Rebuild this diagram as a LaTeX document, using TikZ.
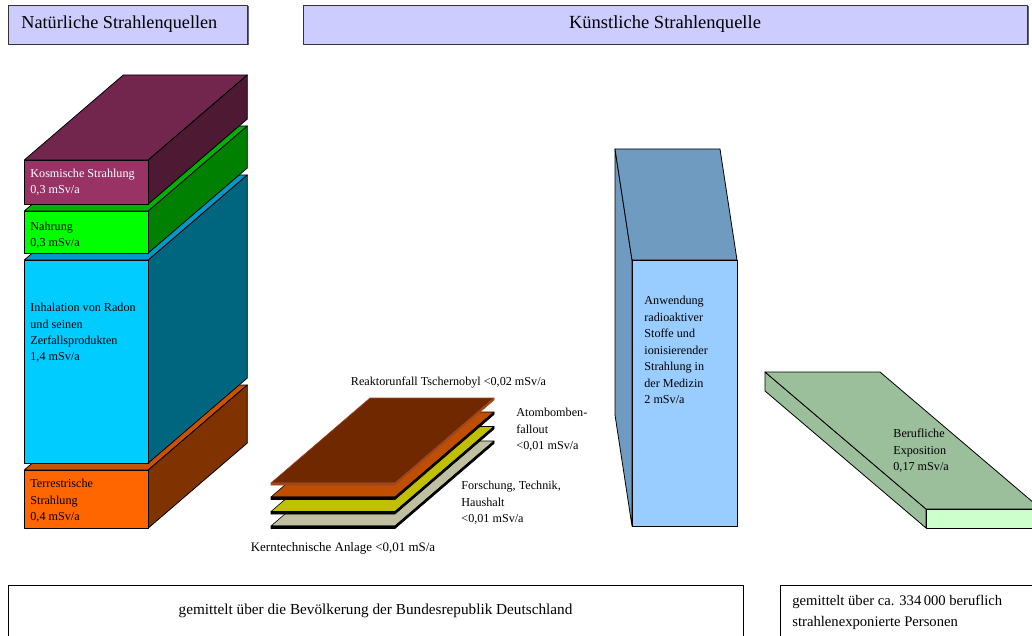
\documentclass[tikz,border=0pt]{standalone}
\usepackage{fontspec}
\setmainfont{Liberation Serif}
\usetikzlibrary{calc}
\definecolor{headBlue}{RGB}{204,204,255}
\definecolor{kosFront}{RGB}{153,51,102}
\definecolor{kosTop}{RGB}{114,38,78}
\definecolor{kosSide}{RGB}{77,25,51}
\definecolor{nahFront}{RGB}{0,255,0}
\definecolor{nahTop}{RGB}{0,178,0}
\definecolor{nahSide}{RGB}{0,128,0}
\definecolor{radFront}{RGB}{0,204,255}
\definecolor{radTop}{RGB}{0,153,204}
\definecolor{radSide}{RGB}{0,102,128}
\definecolor{terFront}{RGB}{255,102,0}
\definecolor{terTop}{RGB}{204,82,0}
\definecolor{terSide}{RGB}{128,51,0}
\definecolor{medFront}{RGB}{153,204,255}
\definecolor{medSide}{RGB}{112,155,192}
\definecolor{berTop}{RGB}{155,191,155}
\definecolor{berFront}{RGB}{204,255,204}
\definecolor{kernFill}{RGB}{192,192,160}
\definecolor{forFill}{RGB}{192,192,0}
\definecolor{atomFill}{RGB}{192,78,0}
\definecolor{tscFill}{RGB}{112,40,0}
\definecolor{tscEdge}{RGB}{160,70,30}

\begin{document}
\begin{tikzpicture}[x=1bp, y=-1bp, line join=round, line width=0.8bp,
  every node/.style={font=\fontsize{12.2}{16.5}\selectfont, inner sep=0pt, align=left}]
  \useasboundingbox (0,0) rectangle (1032,636);
  \clip (0,0) rectangle (1032,636);

  % headers
  \fill[black!60] (9.5,6.5) rectangle (248.5,45.5);
  \filldraw[fill=headBlue, draw=black!80] (8,5) rectangle (247,44);
  \node[anchor=west, font=\fontsize{18.3}{22}\selectfont] (natHead) at (21,24.5) {Natürliche Strahlenquellen};
  \fill[black!60] (304.5,6.5) rectangle (1028.5,45.5);
  \filldraw[fill=headBlue, draw=black!80] (303,5) rectangle (1027,44);
  \node[font=\fontsize{18.6}{22}\selectfont] (kuenHead) at (665,24.5) {Künstliche Strahlenquelle};

  % natural stack, bottom to top
  \filldraw[fill=terTop] (24.3,470) -- (148.3,470) -- (247.3,385) -- (123.3,385) -- cycle;
  \filldraw[fill=terSide] (148.3,470) -- (247.3,385) -- (247.3,443) -- (148.3,528) -- cycle;
  \filldraw[fill=terFront] (24.3,470) rectangle (148.3,528);
  \node[anchor=west] (terLabel) at (30,501) {Terrestrische\\Strahlung\\0,4 mSv/a};

  \filldraw[fill=radTop] (24.3,260) -- (148.3,260) -- (247.3,175) -- (123.3,175) -- cycle;
  \filldraw[fill=radSide] (148.3,260) -- (247.3,175) -- (247.3,378) -- (148.3,463) -- cycle;
  \filldraw[fill=radFront] (24.3,260) rectangle (148.3,463);
  \node[anchor=west] (radLabel) at (30,333) {Inhalation von Radon\\und seinen\\Zerfallsprodukten\\1,4 mSv/a};

  \filldraw[fill=nahTop] (24.3,211) -- (148.3,211) -- (247.3,126) -- (123.3,126) -- cycle;
  \filldraw[fill=nahSide] (148.3,211) -- (247.3,126) -- (247.3,168) -- (148.3,253) -- cycle;
  \filldraw[fill=nahFront] (24.3,211) rectangle (148.3,253);
  \node[anchor=west] (nahLabel) at (30,235) {Nahrung\\0,3 mSv/a};

  \filldraw[fill=kosTop] (24.3,160) -- (148.3,160) -- (247.3,75) -- (123.3,75) -- cycle;
  \filldraw[fill=kosSide] (148.3,160) -- (247.3,75) -- (247.3,119) -- (148.3,204) -- cycle;
  \filldraw[fill=kosFront] (24.3,160) rectangle (148.3,204);
  \node[anchor=west, text=white] (kosLabel) at (30,182.5) {Kosmische Strahlung\\0,3 mSv/a};

  % thin plates
  \filldraw[fill=kernFill, line width=0.6bp] (271,526) -- (395,526) -- (494,441) -- (370,441) -- cycle;
  \filldraw[fill=black, line width=0.6bp] (271,526) -- (395,526) -- (494,441) -- (494,443.5) -- (395,528.5) -- (271,528.5) -- cycle;
  \filldraw[fill=forFill, line width=0.6bp] (271,511.5) -- (395,511.5) -- (494,426.5) -- (370,426.5) -- cycle;
  \filldraw[fill=black, line width=0.6bp] (271,511.5) -- (395,511.5) -- (494,426.5) -- (494,429) -- (395,514) -- (271,514) -- cycle;
  \filldraw[fill=atomFill, line width=0.6bp] (271,497) -- (395,497) -- (494,412) -- (370,412) -- cycle;
  \filldraw[fill=black, line width=0.6bp] (271,497) -- (395,497) -- (494,412) -- (494,414.5) -- (395,499.5) -- (271,499.5) -- cycle;
  \filldraw[fill=tscFill, draw=tscEdge, line width=0.6bp] (271,483) -- (395,483) -- (494,398) -- (370,398) -- cycle;
  \filldraw[fill=tscEdge, draw=tscEdge, line width=0.6bp] (271,483) -- (395,483) -- (494,398) -- (494,400) -- (395,485) -- (271,485) -- cycle;
  \node (tscLabel) at (448.5,383) {Reaktorunfall Tschernobyl <0,02 mSv/a};
  \node[anchor=west] (atomLabel) at (516,430) {Atombomben-\\fallout\\<0,01 mSv/a};
  \node[anchor=west] (forLabel) at (461,503) {Forschung, Technik,\\Haushalt\\<0,01 mSv/a};
  \node[font=\fontsize{13}{16.5}\selectfont] (kernLabel) at (343,548) {Kerntechnische Anlage <0,01 mS/a};

  % medicine column
  \filldraw[fill=medSide] (615,149) -- (632,260) -- (632,526) -- (615,415) -- cycle;
  \filldraw[fill=medSide] (615,149) -- (720,149) -- (737,260) -- (632,260) -- cycle;
  \filldraw[fill=medFront] (632,260) rectangle (737,526);
  \node[anchor=west] (medLabel) at (644,350) {Anwendung\\radioaktiver\\Stoffe und\\ionisierender\\Strahlung in\\der Medizin\\2 mSv/a};

  % occupational slab
  \filldraw[fill=berTop] (765,372) -- (926,509) -- (926,528) -- (765,391) -- cycle;
  \filldraw[fill=berTop] (765,372) -- (880,372) -- (1041,509) -- (926,509) -- cycle;
  \filldraw[fill=berFront] (926,509) rectangle (1041,528);
  \node[anchor=west] (berLabel) at (893,451) {Berufliche\\Exposition\\0,17 mSv/a};

  % footers
  \draw (8,585) rectangle (743,660);
  \node[font=\fontsize{15.3}{21}\selectfont] (popNote) at (375.5,611) {gemittelt über die Bevölkerung der Bundesrepublik Deutschland};
  \draw (780,585) rectangle (1045,660);
  \node[anchor=west, font=\fontsize{14.7}{21}\selectfont] (jobNote) at (792,612.5) {gemittelt über ca. 334\,000 beruflich\\strahlenexponierte Personen};
\end{tikzpicture}
\end{document}
